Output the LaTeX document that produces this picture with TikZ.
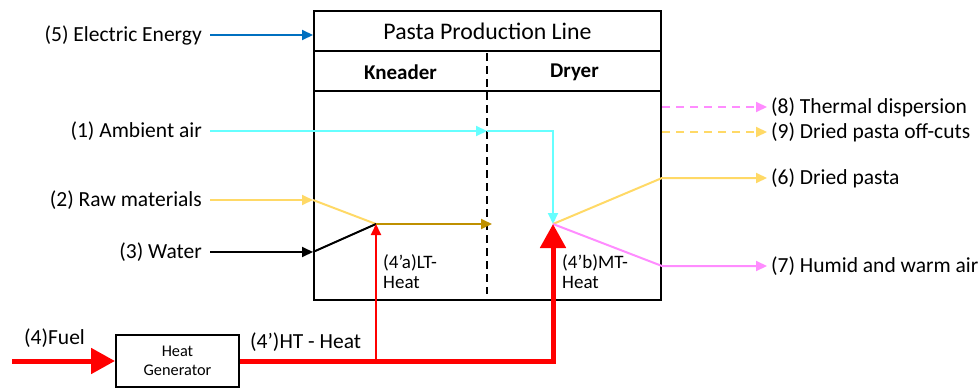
\documentclass[tikz,border=0pt]{standalone}
\usepackage{fontspec}
\setmainfont{Carlito}
\usetikzlibrary{positioning,calc,arrows.meta}
\definecolor{elecblue}{RGB}{0,112,192}
\definecolor{aircyan}{RGB}{102,255,255}
\definecolor{rawyellow}{RGB}{255,217,102}
\definecolor{doughgold}{RGB}{191,144,0}
\definecolor{humidpink}{RGB}{255,140,255}
\definecolor{heatred}{RGB}{255,0,0}

\begin{document}
\begin{tikzpicture}[x=1pt, y=-1pt, font=\fontsize{21.5}{25}\selectfont,
  flow/.style={line width=2pt, -{Triangle[length=11pt,width=10pt]}},
  offflow/.style={flow, dash pattern=on 8pt off 6pt},
  bigheat/.style={heatred, line width=5pt, -{Triangle[length=24pt,width=25pt]}},
  smallheat/.style={heatred, line width=2pt, -{Triangle[length=11pt,width=10pt]}}]
  \useasboundingbox (0,0) rectangle (980,388);

  % Production line box
  \node[draw, line width=2pt, minimum width=347, minimum height=289, inner sep=0]
    (line) at (487.5,155.5) {};
  \draw[line width=2pt] (line.west |- 0,51) -- (line.east |- 0,51);
  \draw[line width=2pt] (line.west |- 0,91) -- (line.east |- 0,91);
  \node[font=\fontsize{23.8}{28}\selectfont] (title) at (487.5,31) {Pasta Production Line};
  \node[font=\fontsize{21}{25}\selectfont\bfseries] (knead) at (400.5,72) {Kneader};
  \node[font=\fontsize{21}{25}\selectfont\bfseries] (dryer) at (574.5,72) {Dryer};
  \draw[line width=2pt, dash pattern=on 8pt off 5pt] (487,53) -- (487,294);

  % Internal junctions
  \coordinate (split) at (487,131);
  \coordinate (mix) at (376,224);
  \coordinate (dough) at (492,224);
  \coordinate (dry) at (553,224);

  % Inputs
  \foreach \name/\y/\txt in {elec/35/{(5) Electric Energy}, air/131/{(1) Ambient air},
      raw/200/{(2) Raw materials}, water/252/{(3) Water}}{
    \node[anchor=east, inner xsep=8pt, inner ysep=3pt] (\name) at (210,\y) {\txt};
  }
  \draw[flow, elecblue] (elec.east) -- (elec.east -| line.west);
  \draw[flow, aircyan] (air.east) -- (split);
  \draw[flow, aircyan] (split) -| (dry);
  \draw[flow, rawyellow] (raw.east) -- (raw.east -| line.west);
  \draw[line width=2pt, rawyellow] (raw.east -| line.west) -- (mix);
  \draw[flow, black] (water.east) -- (water.east -| line.west);
  \draw[line width=2pt, black] (water.east -| line.west) -- (mix);
  \draw[flow, doughgold] (mix) -- (dough);

  % Outputs
  \foreach \name/\y/\txt in {off8/107/{(8) Thermal dispersion}, off9/132/{(9) Dried pasta off-cuts},
      pasta/178/{(6) Dried pasta}, humid/266/{(7) Humid and warm air}}{
    \node[anchor=west, inner xsep=4pt, inner ysep=3pt] (\name) at (767,\y) {\txt};
  }
  \draw[offflow, humidpink] (off8.west -| line.east) -- (off8.west);
  \draw[offflow, rawyellow] (off9.west -| line.east) -- (off9.west);
  \draw[flow, rawyellow] (dry) -- (pasta.west -| line.east) -- (pasta.west);
  \draw[flow, humidpink] (dry) -- (humid.west -| line.east) -- (humid.west);

  % Heat supply
  \node[draw, line width=2pt, minimum width=123, minimum height=52, align=center,
    font=\fontsize{16.3}{19}\selectfont] (gen) at (177.5,361) {Heat\\Generator};
  \coordinate (fuelin) at (12,361);
  \coordinate (tap) at (mix |- gen.east);
  \draw[bigheat] (fuelin) -- (gen.west);
  \draw[bigheat] (gen.east) -| (dry);
  \draw[smallheat] (tap) -- (mix);
  \node[anchor=west, inner sep=2pt] (fuel) at (22,338) {(4)Fuel};
  \node[anchor=west, inner sep=2pt] (ht) at (248,342) {(4’)HT - Heat};
  \node[anchor=north west, align=left, inner sep=2pt, font=\fontsize{19}{20}\selectfont]
    (lt) at (381,252) {(4’a)LT-\\Heat};
  \node[anchor=north west, align=left, inner sep=2pt, font=\fontsize{19}{20}\selectfont]
    (mt) at (560,252) {(4’b)MT-\\Heat};
\end{tikzpicture}
\end{document}
